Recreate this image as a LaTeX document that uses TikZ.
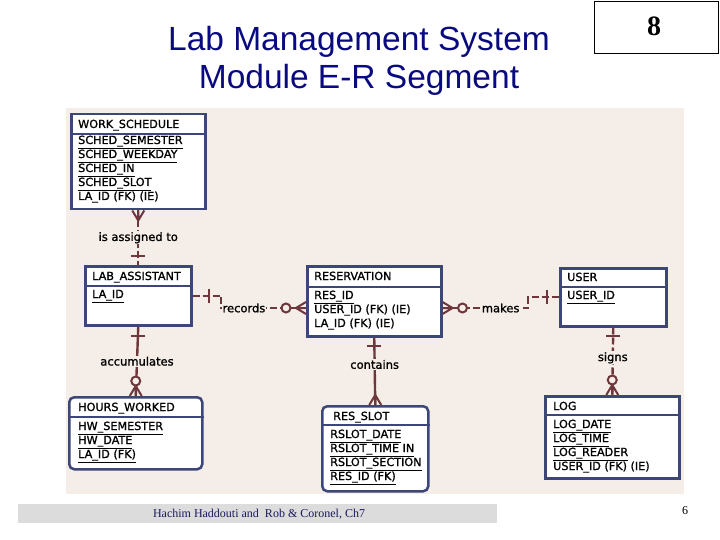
\documentclass[tikz,border=0pt]{standalone}
\usepackage{fontspec}
\setmainfont{Liberation Serif}
\newfontfamily\titlefont{Liberation Sans}
\newfontfamily\erfont[FakeBold=1.2]{DejaVu Sans}
\definecolor{titleblue}{HTML}{0A0A80}
\definecolor{entblue}{HTML}{3C4678}
\definecolor{relc}{HTML}{6E373C}
\definecolor{bg}{HTML}{F5EEE8}
\definecolor{footgray}{HTML}{DCDCDC}
\definecolor{footblue}{HTML}{1A1A5A}
\newcommand{\pk}[1]{\setbox0\hbox{#1}\rlap{\rule[-5pt]{\wd0}{1pt}}\box0}
\tikzset{
  ent/.style={draw=entblue, line width=2.5pt, fill=white, anchor=north west, inner sep=0pt},
  hdr/.style={draw=entblue, line width=2pt},
  ttl/.style={font=\erfont\fontsize{11.2}{12}\selectfont, anchor=base west, inner sep=0pt},
  att/.style={font=\erfont\fontsize{11.2}{12}\selectfont, anchor=base west, inner sep=0pt},
  rel/.style={draw=relc, line width=2.4pt},
  nonid/.style={rel, dash pattern=on 7pt off 3pt},
  sym/.style={draw=relc, line width=2pt, solid},
  lbl/.style={font=\erfont\fontsize{11.5}{12}\selectfont, fill=bg, inner sep=1pt},
  pics/crow/.style={code={\draw[sym] (0,-6) -- (10,0) -- (0,6) (0,0) -- (10,0);}},
  pics/bar/.style={code={\draw[sym] (#1,-7) -- (#1,7);}},
  pics/bar/.default=9,
  pics/ring/.style={code={\draw[sym, fill=bg] (#1,0) circle (4.5pt);}},
  pics/ring/.default=15
}
\begin{document}
\begin{tikzpicture}[x=1pt, y=-1pt]
    \useasboundingbox (0,0) rectangle (720,540);
    % Title and page box
    \node[font=\titlefont\fontsize{33.5}{38}\selectfont, text=titleblue, anchor=base] (title1) at (359,51) {Lab Management System};
    \node[font=\titlefont\fontsize{33.5}{38}\selectfont, text=titleblue, anchor=base] (title2) at (359,89) {Module E-R Segment};
    \node[draw, line width=0.8pt, minimum width=124pt, minimum height=52pt, anchor=north west] (pgbox) at (594,1) {};
    \node[font=\bfseries\fontsize{28}{30}\selectfont] (pgnum) at (654,26) {8};
    % Diagram background
    \fill[bg] (66,108) rectangle (684,494);
    % Entities
    \node[ent, minimum width=134pt, minimum height=95pt] (ws) at (70,113) {};
    \draw[hdr] (ws.west |- 0,134) -- (ws.east |- 0,134);
    \node[ttl] (ws-t) at (78,128) {WORK\_SCHEDULE};
    \foreach \a [count=\i] in {\pk{SCHED\_SEMESTER}, \pk{SCHED\_WEEKDAY}, \pk{SCHED\_IN}, \pk{SCHED\_SLOT}, LA\_ID (FK) (IE)}
        \node[att] (ws-\i) at (78,{130+14*\i}) {\a};

    \node[ent, minimum width=106pt, minimum height=59pt] (la) at (84,265) {};
    \draw[hdr] (la.west |- 0,286) -- (la.east |- 0,286);
    \node[ttl] (la-t) at (92,280) {LAB\_ASSISTANT};
    \node[att] (la-1) at (92,298) {\pk{LA\_ID}};

    \node[ent, minimum width=134pt, minimum height=70pt] (res) at (306,265) {};
    \draw[hdr] (res.west |- 0,287) -- (res.east |- 0,287);
    \node[ttl] (res-t) at (314,280) {RESERVATION};
    \foreach \a [count=\i] in {\pk{RES\_ID}, USER\_ID (FK) (IE), LA\_ID (FK) (IE)}
        \node[att] (res-\i) at (314,{285+14*\i}) {\a};

    \node[ent, minimum width=106pt, minimum height=58pt] (user) at (559,267) {};
    \draw[hdr] (user.west |- 0,287) -- (user.east |- 0,287);
    \node[ttl] (user-t) at (567,281) {USER};
    \node[att] (user-1) at (567,299) {\pk{USER\_ID}};

    \node[ent, rounded corners=5pt, minimum width=133pt, minimum height=72pt] (hw) at (68,396) {};
    \draw[hdr] (hw.west |- 0,417) -- (hw.east |- 0,417);
    \node[ttl] (hw-t) at (78,411) {HOURS\_WORKED};
    \foreach \a [count=\i] in {\pk{HW\_SEMESTER}, \pk{HW\_DATE}, \pk{LA\_ID (FK)}}
        \node[att] (hw-\i) at (78,{416+14*\i}) {\a};

    \node[ent, rounded corners=5pt, minimum width=106pt, minimum height=85pt] (rs) at (321,405) {};
    \draw[hdr] (rs.west |- 0,425) -- (rs.east |- 0,425);
    \node[ttl] (rs-t) at (333,420) {RES\_SLOT};
    \foreach \a [count=\i] in {\pk{RSLOT\_DATE}, \pk{RSLOT\_TIME IN}, \pk{RSLOT\_SECTION}, \pk{RES\_ID (FK)}}
        \node[att] (rs-\i) at (330,{424+14*\i}) {\a};

    \node[ent, minimum width=134pt, minimum height=82pt] (log) at (544,395) {};
    \draw[hdr] (log.west |- 0,415) -- (log.east |- 0,415);
    \node[ttl] (log-t) at (553,410) {LOG};
    \foreach \a [count=\i] in {\pk{LOG\_DATE}, \pk{LOG\_TIME}, \pk{LOG\_READER}, USER\_ID (FK) (IE)}
        \node[att] (log-\i) at (553,{414+14*\i}) {\a};

    % Relationships
    \coordinate (rbend) at (221,308);
    \coordinate (mbend) at (528,308);
    \draw[nonid] (ws.south) -- node[lbl]{is assigned to} (la.north);
    \draw[nonid] (la.east) -| (rbend) -- node[lbl, pos=0.27]{records} (res.west |- rbend);
    \draw[nonid] (res.east |- mbend) -- node[lbl, pos=0.68]{makes} (mbend) |- (user.west);
    \draw[rel] (la.south) -- node[lbl]{accumulates} (hw.north);
    \draw[rel] (res.south) -- node[lbl, pos=0.4]{contains} (rs.north);
    \draw[nonid] (user.south) -- node[lbl, pos=0.45]{signs} (log.north);
    % Cardinality symbols
    \pic[rotate=-90] at (ws.south) {crow};
    \pic[rotate=90] at (la.north) {bar};
    \pic at (la.east) {bar=16};
    \pic[rotate=180] at (res.west |- rbend) {crow};
    \pic[rotate=180] at (res.west |- rbend) {ring=20};
    \pic at (res.east |- mbend) {crow};
    \pic at (res.east |- mbend) {ring=20};
    \pic[rotate=180] at (user.west) {bar=12};
    \pic[rotate=-90] at (la.south) {bar};
    \pic[rotate=90] at (hw.north) {crow};
    \pic[rotate=90] at (hw.north) {ring};
    \pic[rotate=-90] at (res.south) {bar=8};
    \pic[rotate=90] at (rs.north) {crow};
    \pic[rotate=-90] at (user.south) {bar=8};
    \pic[rotate=90] at (log.north) {crow};
    \pic[rotate=90] at (log.north) {ring};
    % Footer
    \node[fill=footgray, minimum width=479pt, minimum height=19pt, anchor=north west, inner sep=0pt] (foot) at (18,504) {};
    \node[text=footblue, font=\fontsize{12}{14}\selectfont] (foottext) at (259,514) {Hachim Haddouti and\ \ Rob \& Coronel, Ch7};
    \node[font=\fontsize{12}{14}\selectfont] (slide) at (685,511) {6};
\end{tikzpicture}
\end{document}
